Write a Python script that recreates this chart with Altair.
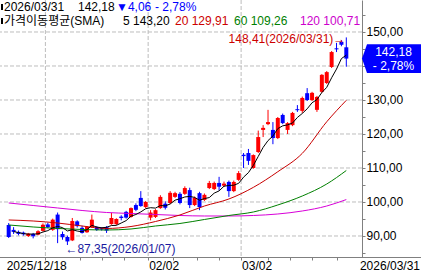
import altair as alt
import pandas as pd

# ---------------- data ----------------
dates = [
    "2025/12/18", "2025/12/19", "2025/12/22", "2025/12/23", "2025/12/24", "2025/12/26",
    "2025/12/29", "2025/12/30", "2025/12/31",
    "2026/01/02", "2026/01/05", "2026/01/06", "2026/01/07", "2026/01/08", "2026/01/09",
    "2026/01/12", "2026/01/13", "2026/01/14", "2026/01/15", "2026/01/16", "2026/01/20",
    "2026/01/21", "2026/01/22", "2026/01/23", "2026/01/26", "2026/01/27", "2026/01/28",
    "2026/01/29", "2026/01/30",
    "2026/02/02", "2026/02/03", "2026/02/04", "2026/02/05", "2026/02/06", "2026/02/09",
    "2026/02/10", "2026/02/11", "2026/02/12", "2026/02/13", "2026/02/17", "2026/02/18",
    "2026/02/19", "2026/02/20", "2026/02/23", "2026/02/24", "2026/02/25", "2026/02/26",
    "2026/02/27",
    "2026/03/02", "2026/03/03", "2026/03/04", "2026/03/05", "2026/03/06", "2026/03/09",
    "2026/03/10", "2026/03/11", "2026/03/12", "2026/03/13", "2026/03/16", "2026/03/17",
    "2026/03/18", "2026/03/19", "2026/03/20", "2026/03/23", "2026/03/24", "2026/03/25",
    "2026/03/26", "2026/03/27", "2026/03/30", "2026/03/31",
]

opens = [93.2, 91.8, 91.2, 91.0, 90.0, 90.6, 90.4, 91.5, 93.4, 91.8,
         96.3, 90.6, 89.7, 88.7, 94.3, 92.4, 91.1, 92.6, 92.6, 92.3,
         92.6, 93.5, 93.5, 95.7, 97.1, 95.6, 99.1, 101.2, 98.5, 95.4,
         95.6, 98.2, 99.5, 99.7, 101.5, 102.4, 102.4, 103.5, 99.1, 102.6,
         100.6, 104.1, 103.8, 105.6, 104.8, 105.9, 103.2, 106.5, 113.9, 114.4,
         110.0, 114.7, 121.2, 122.9, 121.2, 118.8, 125.6, 121.2, 122.6, 127.3,
         126.8, 132.0, 130.0, 127.1, 132.4, 135.0, 139.7, 145.2, 147.1, 145.5]

highs = [93.8, 92.6, 91.6, 91.3, 90.9, 90.9, 91.7, 93.7, 93.9, 95.1,
         96.9, 91.3, 90.1, 95.3, 94.6, 93.0, 92.9, 96.3, 92.9, 92.6,
         92.9, 96.8, 95.2, 96.1, 97.4, 98.4, 99.6, 103.2, 100.3, 97.6,
         97.9, 102.0, 100.2, 103.2, 103.0, 102.9, 104.6, 104.2, 101.6, 103.0,
         102.5, 106.2, 106.0, 107.4, 106.0, 106.3, 106.3, 109.1, 114.4, 115.6,
         114.0, 121.0, 122.6, 127.1, 123.5, 125.0, 126.0, 123.5, 126.5, 128.5,
         131.0, 133.5, 132.4, 131.2, 137.6, 138.5, 144.4, 146.8, 147.6, 148.41]

lows = [89.4, 90.6, 90.2, 90.1, 89.7, 89.3, 90.2, 91.3, 92.3, 91.5,
        87.9, 88.9, 87.35, 88.5, 92.5, 90.7, 90.9, 92.4, 91.5, 91.6,
        90.9, 93.3, 93.2, 94.6, 95.1, 95.4, 97.3, 98.6, 98.2, 94.6,
        95.3, 98.0, 97.8, 99.4, 101.2, 99.3, 102.1, 98.2, 98.8, 97.6,
        100.3, 103.8, 103.5, 103.4, 104.4, 101.5, 102.9, 106.2, 110.0, 110.9,
        109.8, 114.4, 119.1, 122.6, 117.0, 118.5, 122.9, 120.0, 122.3, 126.5,
        126.2, 129.7, 129.7, 126.5, 132.1, 134.7, 139.4, 144.1, 145.8, 139.8]

closes = [89.7, 91.2, 90.6, 90.5, 90.7, 89.9, 91.4, 93.3, 92.6, 94.8,
          92.0, 89.6, 88.4, 94.4, 92.9, 90.9, 92.7, 94.8, 91.8, 91.9,
          91.6, 95.3, 95.0, 95.3, 95.4, 98.2, 97.7, 98.8, 100.0, 96.9,
          97.6, 101.5, 98.3, 102.7, 102.6, 99.7, 104.1, 99.1, 101.2, 98.5,
          102.1, 105.6, 105.6, 104.5, 105.4, 103.2, 105.9, 108.5, 113.5, 112.1,
          113.8, 119.1, 121.8, 123.5, 118.8, 124.7, 123.2, 123.2, 126.2, 127.0,
          130.6, 130.0, 132.1, 130.9, 137.4, 138.2, 144.1, 144.9, 146.24, 142.18]

# SMA 5 (black), read per candle from index 1
sma5_idx = list(range(1, 70))
sma5 = [91.3, 91.0, 90.7, 90.54, 90.58, 90.62, 91.16, 91.58, 92.4,
        92.82, 92.46, 91.48, 91.84, 91.46, 91.24, 91.86, 93.14, 92.62, 92.42,
        92.56, 93.08, 93.12, 93.82, 94.52, 95.84, 96.32, 97.08, 98.02, 98.32,
        98.2, 98.96, 98.86, 99.4, 100.54, 100.96, 101.48, 101.64, 101.34, 100.52,
        101.0, 101.3, 102.6, 103.26, 104.64, 104.86, 104.92, 105.5, 107.3, 108.64,
        110.76, 113.4, 116.06, 118.06, 119.4, 121.58, 122.4, 122.68, 123.22, 124.86,
        126.04, 127.4, 129.18, 130.12, 132.2, 133.72, 136.54, 139.1, 142.17, 143.20]

# longer SMAs, read at every fifth candle
ma_idx = [0, 5, 10, 15, 20, 25, 30, 35, 40, 45, 50, 55, 60, 65, 69]
sma20 = [94.71, 94.41, 93.82, 92.94, 92.21, 92.79, 94.26, 96.18, 98.82, 100.88,
         104.3, 108.9, 114.3, 123.6, 129.91]
sma60 = [93.24, 92.65, 92.21, 91.91, 91.76, 92.06, 92.94, 93.68, 94.85, 96.03,
         97.06, 99.12, 101.76, 105.29, 109.26]
sma120 = [99.71, 98.97, 98.24, 97.5, 96.91, 96.62, 96.32, 96.03, 95.88, 95.88,
          96.03, 96.47, 97.35, 98.82, 100.71]

y_grid_vals = [90, 100, 110, 120, 130, 140, 150]
y_tick_vals = [85, 90, 95, 100, 105, 110, 115, 120, 125, 130, 135, 140, 145, 150, 155]
month_grid_idx = [7.5, 28.5, 47.5]
x_tick_idx = [7.5, 14.5, 19, 23.5, 28.5, 33.5, 38.5, 43, 47.5, 53, 57.5, 62, 67]
month_label_idx = [28.5, 47.5]
month_labels = [dates[29][5:], dates[48][5:]]

# ---------------- styling ----------------
FONT = "Liberation Sans, Noto Sans CJK KR, DejaVu Sans, sans-serif"
RED = "#ff0000"
BLUE = "#0000ff"
W, H = 362, 257


def fmt(v):
    return f"{v:.2f}".replace(".", ",")


last, prev = closes[-1], closes[-2]

xscale = alt.Scale(domain=[-0.755, 71.185], nice=False, zero=False)
yscale = alt.Scale(domain=[83.82, 159.41], nice=False, zero=False)

xaxis = alt.Axis(values=x_tick_idx, labels=False, domain=False, grid=False,
                 ticks=True, tickSize=3, tickColor="#808080", title=None)
# labels every 10; the one hidden under the current-price tag is left out
label_expr = ("(datum.value % 10 == 0 && abs(datum.value - " + str(last) + ") > 4.5) ? "
              "replace(format(datum.value, '.2f'), '.', ',') : ''")
yaxis = alt.Axis(orient="right", values=y_tick_vals, grid=False, domain=True,
                 domainColor="#808080", tickColor="#808080", tickSize=3,
                 labelPadding=1, labelFont=FONT, labelFontSize=12, labelColor="black",
                 labelAlign="left", labelBaseline="middle", title=None,
                 labelExpr=label_expr)


def X(field):
    return alt.X(field, scale=xscale, axis=xaxis)


def Y(field):
    return alt.Y(field, scale=yscale, axis=yaxis)


df = pd.DataFrame(dict(idx=list(range(len(dates))), date=dates, open=opens,
                       high=highs, low=lows, close=closes))
df["dir"] = ["up" if c >= o else "down" for o, c in zip(opens, closes)]
cdir = alt.Color("dir:N", scale=alt.Scale(domain=["up", "down"], range=[RED, BLUE]), legend=None)

layers = []

# grid
layers.append(alt.Chart(pd.DataFrame({"v": y_grid_vals})).mark_rule(
    color="#bdbdbd", strokeDash=[4, 2], strokeWidth=1).encode(y=Y("v:Q")))
layers.append(alt.Chart(pd.DataFrame({"idx": month_grid_idx})).mark_rule(
    color="#bdbdbd", strokeDash=[4, 2], strokeWidth=1).encode(x=X("idx:Q")))

# candles
base = alt.Chart(df)
layers.append(base.mark_rule(strokeWidth=1).encode(
    x=X("idx:Q"), y=Y("low:Q"), y2="high:Q", color=cdir))
layers.append(base.mark_bar(size=4).encode(
    x=X("idx:Q"), y=Y("open:Q"), y2="close:Q", color=cdir))

# moving averages
ma_df = pd.DataFrame(dict(idx=ma_idx, s20=sma20, s60=sma60, s120=sma120))
for col, colr in [("s120", "#d800d8"), ("s60", "#008000"), ("s20", "#c80000")]:
    layers.append(alt.Chart(ma_df).mark_line(color=colr, strokeWidth=1, interpolate="monotone").encode(
        x=X("idx:Q"), y=Y(f"{col}:Q")))
layers.append(alt.Chart(pd.DataFrame(dict(idx=sma5_idx, s5=sma5))).mark_line(
    color="black", strokeWidth=1).encode(x=X("idx:Q"), y=Y("s5:Q")))

# high / low annotations
i_hi = max(range(len(highs)), key=lambda i: highs[i])
i_lo = min(range(len(lows)), key=lambda i: lows[i])
hi_df = pd.DataFrame(dict(idx=[i_hi], v=[highs[i_hi]],
                          t=[f"{fmt(highs[i_hi])}({dates[i_hi]})\u2192"]))
lo_df = pd.DataFrame(dict(idx=[i_lo], v=[lows[i_lo]],
                          t=[f"\u2190{fmt(lows[i_lo])}({dates[i_lo]})"]))
layers.append(alt.Chart(hi_df).mark_text(align="right", baseline="middle", dx=-1, dy=1.5,
                                         font=FONT, fontSize=12, color="#cc0000").encode(
    x=X("idx:Q"), y=Y("v:Q"), text="t:N"))
layers.append(alt.Chart(lo_df).mark_text(align="left", baseline="middle", dx=-2, dy=4,
                                         font=FONT, fontSize=12, color="#1a1aa0").encode(
    x=X("idx:Q"), y=Y("v:Q"), text="t:N"))

# bottom line across the whole width
layers.append(alt.Chart(pd.DataFrame({"a": [0]})).mark_rule(color="#808080", strokeWidth=1).encode(
    x=alt.value(0), x2=alt.value(421), y=alt.value(257.5)))

# bottom date labels
layers.append(alt.Chart(pd.DataFrame(dict(idx=[0], t=[dates[0]]))).mark_text(
    align="left", baseline="middle", dx=-2, font=FONT, fontSize=12, color="black").encode(
    x=X("idx:Q"), y=alt.value(266), text="t:N"))
layers.append(alt.Chart(pd.DataFrame(dict(idx=month_label_idx, t=month_labels))).mark_text(
    align="left", baseline="middle", dx=1, font=FONT, fontSize=12, color="black").encode(
    x=X("idx:Q"), y=alt.value(266), text="t:N"))
layers.append(alt.Chart(pd.DataFrame(dict(t=[dates[-1]]))).mark_text(
    align="right", baseline="middle", font=FONT, fontSize=12, color="black").encode(
    x=alt.value(420), y=alt.value(266), text="t:N"))

# current price tag
chg = last - prev
pct = chg / prev * 100
sign = "\u25bc" if chg < 0 else "\u25b2"
pct_txt = ("- " if chg < 0 else "+ ") + fmt(abs(pct)) + "%"
tag_df = pd.DataFrame(dict(v=[last], t1=[fmt(last)], t2=[pct_txt]))
layers.append(alt.Chart(tag_df).mark_point(
    shape="M -1 0 L -0.83 -0.49 L 1 -0.49 L 1 0.49 L -0.83 0.49 Z",
    size=3481, filled=True, opacity=1, color=BLUE, strokeWidth=0).encode(
    x=alt.value(391.5), y=Y("v:Q")))
layers.append(alt.Chart(tag_df).mark_text(align="center", baseline="middle", dy=-7,
                                          font=FONT, fontSize=12, color="white").encode(
    x=alt.value(393.5), y=Y("v:Q"), text="t1:N"))
layers.append(alt.Chart(tag_df).mark_text(align="center", baseline="middle", dy=7,
                                          font=FONT, fontSize=12, color="white").encode(
    x=alt.value(393.5), y=Y("v:Q"), text="t2:N"))


# header
def label(txt, x, y, color="black"):
    return alt.Chart(pd.DataFrame({"t": [txt]})).mark_text(
        align="left", baseline="middle", font=FONT, fontSize=12, color=color).encode(
        text="t:N", x=alt.value(x), y=alt.value(y))


for yy in (7, 21):
    layers.append(alt.Chart(pd.DataFrame({"a": [0]})).mark_rect(color="black").encode(
        x=alt.value(1), x2=alt.value(3), y=alt.value(yy - 3), y2=alt.value(yy + 3)))

layers.append(label(dates[-1], 4, 7))
layers.append(label(fmt(last), 78, 7))
layers.append(label(sign + fmt(abs(chg)), 116, 7, BLUE))
layers.append(label(pct_txt, 155, 7, BLUE))
layers.append(label("가격이동평균(SMA)", 4, 21))
layers.append(label(f"5 {fmt(sma5[-1])}", 123, 21))
layers.append(label(f"20 {fmt(sma20[-1])}", 175, 21, "#cc0000"))
layers.append(label(f"60 {fmt(sma60[-1])}", 234, 21, "#008000"))
layers.append(label(f"120 {fmt(sma120[-1])}", 300, 21, "#cc00cc"))

chart = alt.layer(*layers).properties(
    width=W, height=H,
    padding={"left": 0, "top": 0, "right": 59, "bottom": 17},
    autosize=alt.AutoSizeParams(type="none"),
).configure(background="white").configure_view(stroke=None)

chart.save("out.html", embed_options={"renderer": "svg", "actions": False})
